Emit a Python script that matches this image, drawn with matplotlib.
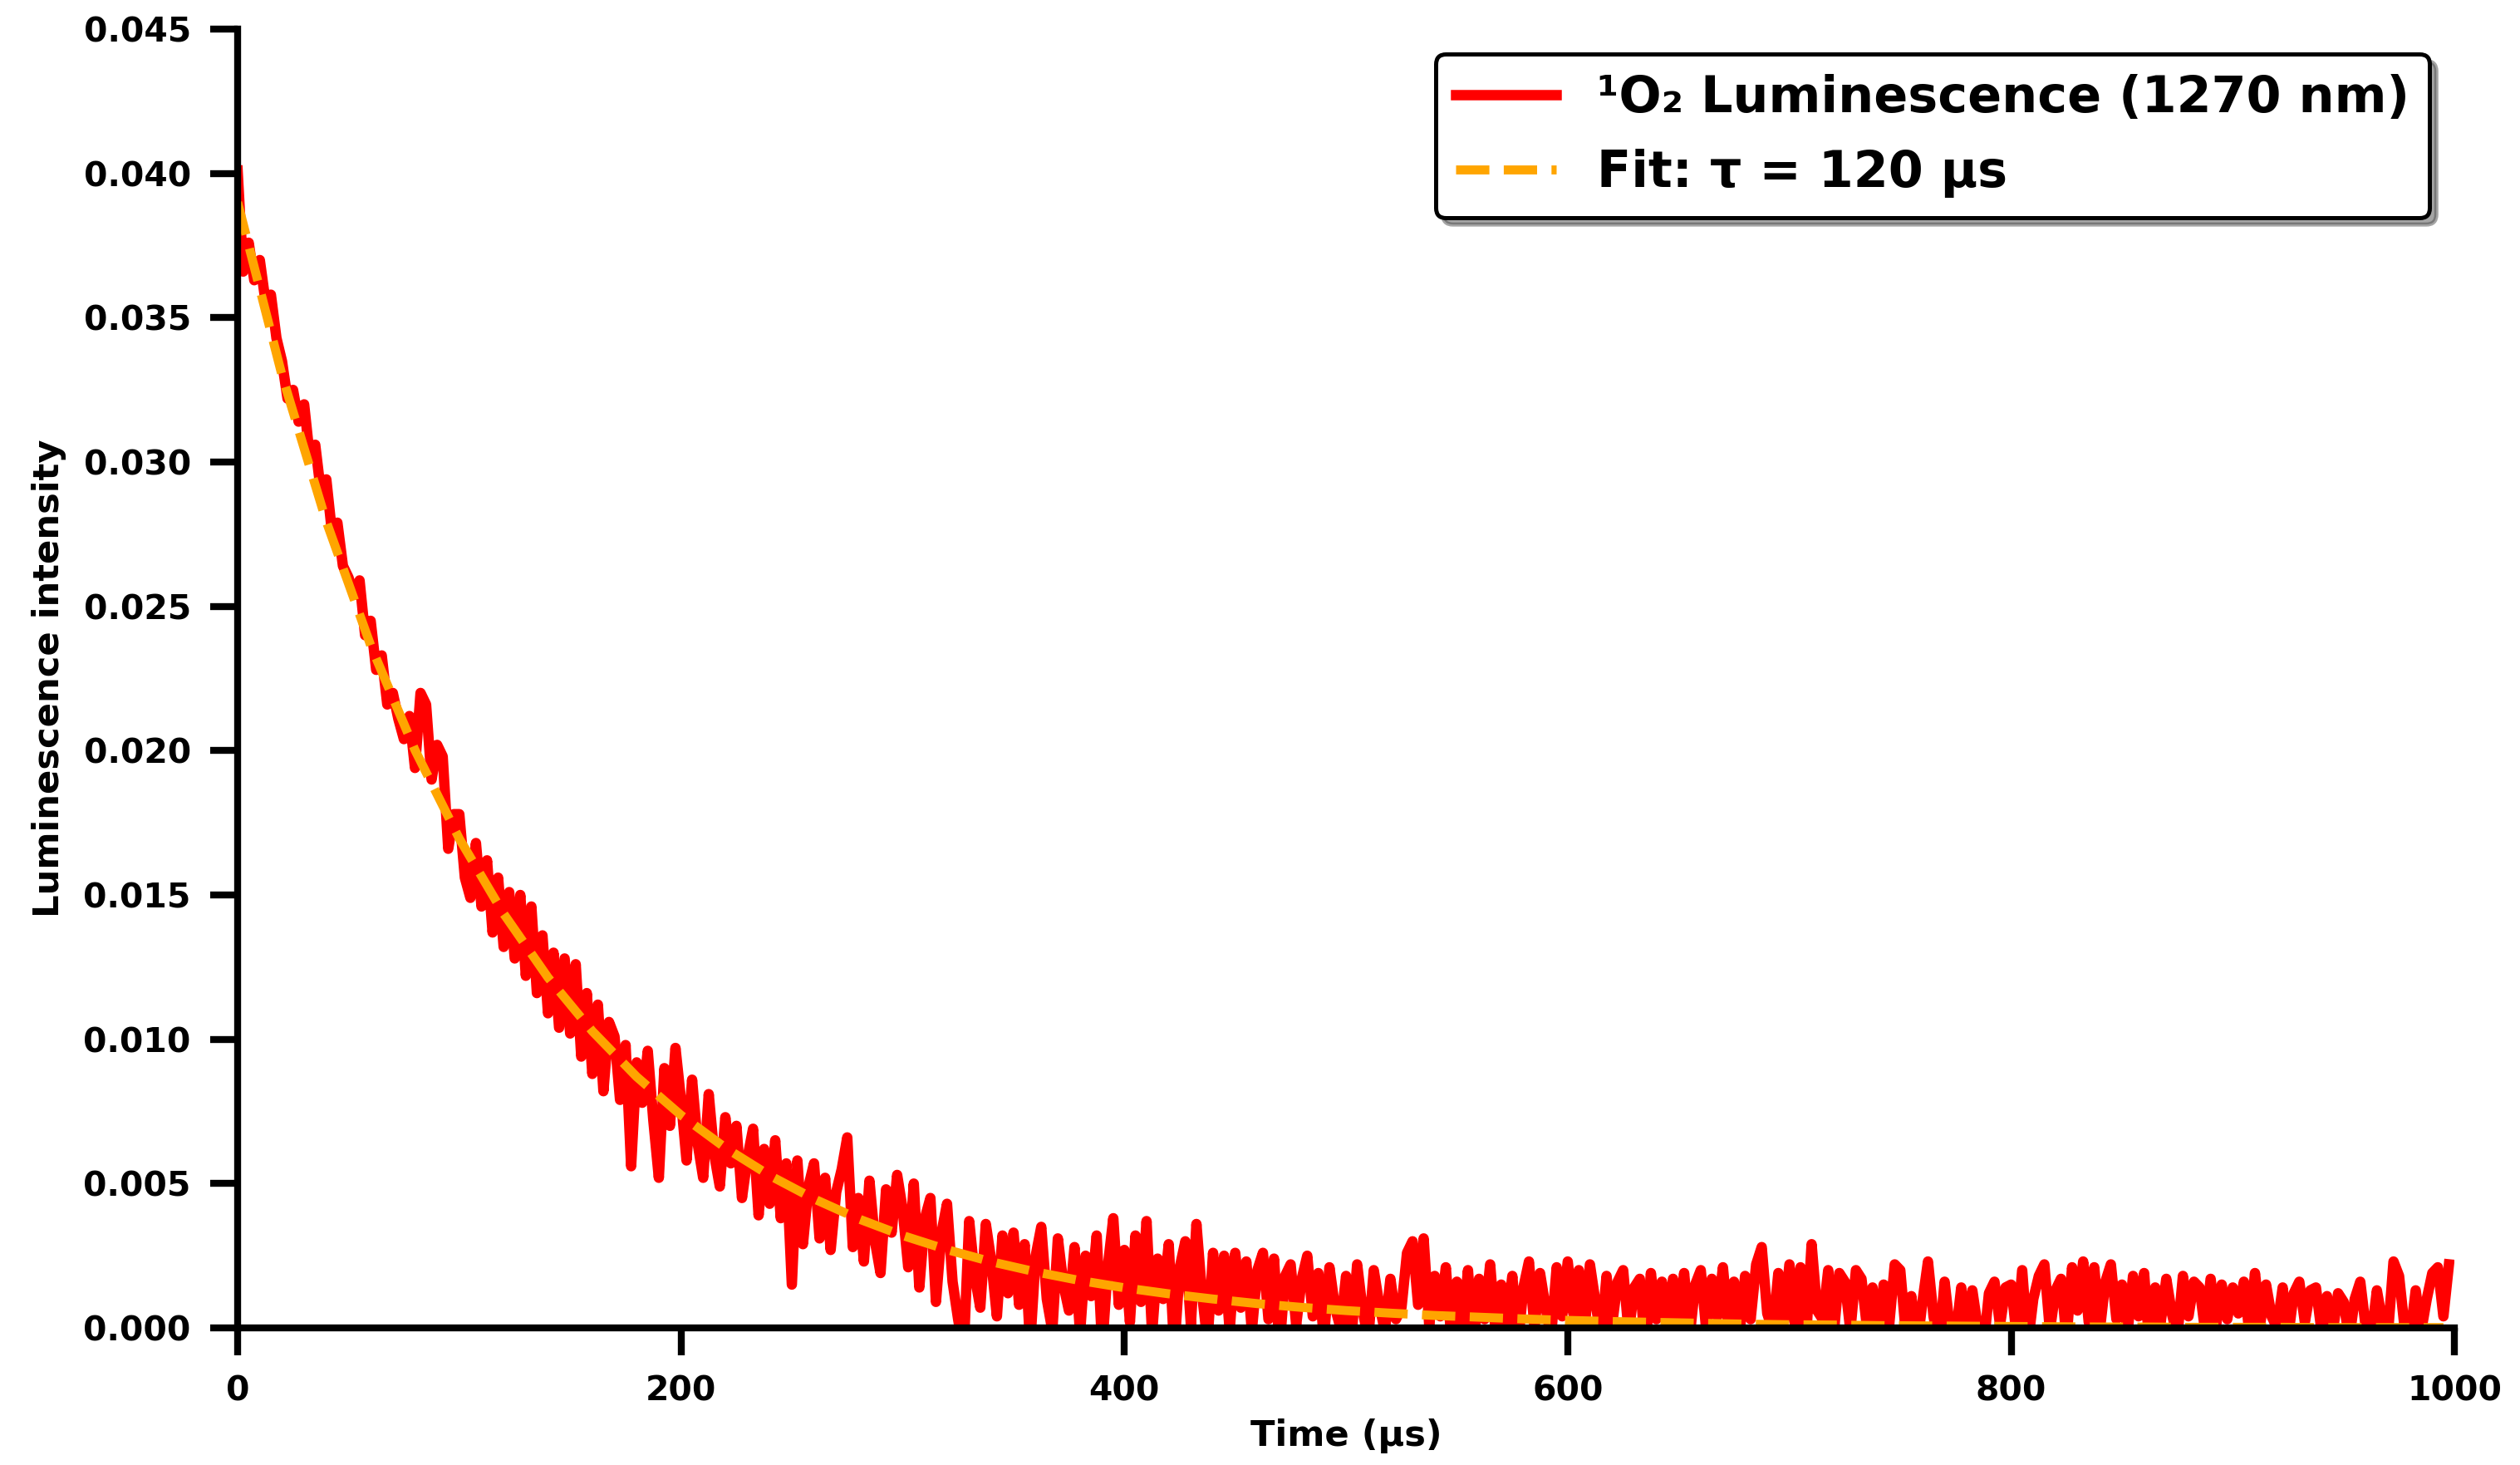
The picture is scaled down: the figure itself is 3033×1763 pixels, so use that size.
import numpy as np
import matplotlib.pyplot as plt

plt.rcParams['font.family'] = 'DejaVu Sans'
plt.rcParams['font.weight'] = 'bold'

# measured trace, one value every 2.5 us, in units of 1e-3
time_step = 2.5
signal_e3 = [
    40.1, 36.6, 37.6, 36.3, 37.0, 35.6, 35.8, 34.3, 33.5, 32.2,
    32.5, 31.4, 32.0, 30.2, 30.6, 29.0, 29.4, 27.6, 27.9, 26.4,
    26.0, 25.4, 25.9, 24.0, 24.5, 22.8, 23.3, 21.6, 22.0, 21.1,
    20.4, 21.2, 19.4, 22.0, 21.6, 19.0, 20.2, 19.8, 16.6, 17.8,
    17.8, 15.6, 14.9, 16.8, 14.6, 16.2, 13.7, 15.6, 13.2, 15.1,
    12.8, 15.0, 12.2, 14.6, 11.6, 13.6, 10.9, 13.0, 10.4, 12.8,
    10.2, 12.6, 9.4, 11.6, 8.8, 11.2, 8.2, 10.6, 10.1, 7.9,
    9.8, 5.6, 9.2, 7.8, 9.6, 7.2, 5.2, 9.0, 7.0, 9.7,
    7.9, 5.8, 8.6, 6.4, 5.2, 8.1, 6.0, 4.9, 7.3, 5.7,
    7.0, 4.5, 5.9, 6.9, 3.9, 6.2, 4.3, 6.5, 3.8, 5.7,
    1.5, 5.8, 2.9, 4.9, 5.7, 3.1, 5.2, 2.7, 4.7, 5.5,
    6.6, 2.8, 4.5, 2.3, 5.1, 3.0, 1.9, 4.8, 3.3, 5.3,
    4.1, 2.1, 5.0, 1.4, 3.8, 4.5, 0.9, 3.3, 4.3, 1.6,
    0.3, -0.8, 3.7, 1.8, 0.7, 3.6, 2.3, 0.4, 3.2, 1.2,
    3.3, 0.8, 2.9, -0.6, 2.5, 3.5, 1.0, -0.1, 3.1, 1.5,
    0.6, 2.8, -0.2, 2.5, 1.1, 3.2, -0.7, 2.1, 3.8, 0.8,
    2.7, 0.2, 3.2, 0.9, 3.7, -0.2, 2.4, 1.0, 2.9, -0.8,
    2.1, 3.0, 0.1, 3.6, 1.2, -0.5, 2.6, 0.6, 2.5, -0.1,
    2.6, 0.7, 2.3, -0.1, 2.0, 2.6, 0.3, 2.4, -0.7, 1.8,
    2.2, 0.1, 1.7, 2.5, 0.4, 1.9, -0.4, 2.1, 0.7, 0.0,
    1.8, -0.3, 2.2, 0.6, -0.4, 2.0, 0.8, -0.1, 1.7, 0.3,
    0.7, 2.6, 3.0, 0.8, 3.1, 0.1, 1.8, 0.4, 2.1, -0.4,
    1.6, 0.0, 2.0, -0.7, 1.7, 0.3, 2.2, -0.2, 1.5, 0.1,
    1.8, -0.6, 1.4, 2.3, 0.0, 1.9, 0.7, -0.3, 2.1, 0.4,
    2.3, 0.5, 2.0, -0.2, 2.2, 0.9, -0.4, 1.8, 0.1, 1.6,
    2.0, -0.2, 1.4, 1.7, -0.8, 1.9, 0.3, 1.6, 0.0, 1.7,
    0.1, 1.9, -0.3, 1.5, 2.0, -0.1, 1.7, 0.4, 2.1, 0.0,
    1.6, -0.2, 1.8, 0.3, 2.2, 2.8, 0.5, -0.1, 1.9, 0.2,
    2.2, 0.1, 2.1, -0.4, 2.9, 0.6, 0.3, 2.0, -0.2, 1.9,
    1.6, -0.1, 2.0, 1.7, 0.0, 1.4, -0.5, 1.5, 0.1, 2.2,
    2.0, -0.2, 1.1, -0.7, 0.9, 2.3, 0.4, -0.6, 1.6, -0.1,
    -0.3, 1.4, -0.9, 1.3, 0.0, -0.7, 1.2, 1.6, 0.1, 1.4,
    1.5, -0.3, 2.0, -0.6, 1.0, 1.8, 2.2, -0.1, 1.3, 1.7,
    -0.4, 2.1, 0.6, 2.3, 0.2, 2.1, -0.1, 1.6, 2.2, 0.3,
    1.5, -0.2, 1.8, 0.4, 1.9, -0.8, 1.4, 0.2, 1.7, 0.5,
    -0.3, 1.8, 0.4, 1.6, 1.4, -0.1, 1.7, 0.1, 1.5, 0.3,
    1.4, 0.5, 1.6, -0.2, 1.9, 0.2, 1.5, 0.4, 0.0, 1.4,
    -0.3, 1.2, 1.6, 0.2, 1.3, 1.4, -0.1, 1.1, -0.2, 1.2,
    0.9, -0.4, 1.0, 1.6, 0.0, -0.3, 1.3, 0.2, -0.2, 2.3,
    1.8, 0.0, -0.3, 1.3, -0.1, 1.0, 1.9, 2.1, 0.4, 2.2,
]

# fitted curve read every 20 us, units of 1e-3
fit_time = [0, 20, 40, 60, 80, 100, 120, 140, 160, 180, 200, 220, 240, 260,
            280, 300, 320, 340, 360, 380, 400, 420, 440, 460, 480, 500, 520,
            540, 560, 580, 600, 620, 640, 660, 680, 700, 720, 740, 760, 780,
            800, 820, 840, 860, 880, 900, 920, 940, 960, 980, 995]
fit_e3 = [39.00, 33.01, 27.94, 23.65, 20.02, 16.95, 14.35, 12.14, 10.28, 8.70,
          7.37, 6.24, 5.28, 4.47, 3.78, 3.20, 2.71, 2.29, 1.94, 1.64,
          1.39, 1.18, 1.00, 0.84, 0.71, 0.60, 0.51, 0.43, 0.37, 0.31,
          0.26, 0.22, 0.19, 0.16, 0.13, 0.11, 0.10, 0.08, 0.07, 0.06,
          0.05, 0.04, 0.03, 0.03, 0.02, 0.02, 0.02, 0.01, 0.01, 0.01, 0.01]

x_ticks = [0, 200, 400, 600, 800, 1000]
y_ticks = [0.000, 0.005, 0.010, 0.015, 0.020, 0.025, 0.030, 0.035, 0.040, 0.045]

t = np.arange(len(signal_e3)) * time_step
y = np.array(signal_e3) * 1e-3
yfit = np.array(fit_e3) * 1e-3

fig = plt.figure(figsize=(3033 / 300, 1763 / 300), dpi=300)
ax = fig.add_axes([0.0943, 0.0936, 0.8797, 0.8865])

ax.plot(t, y, color='red', lw=3.0, label='¹O₂ Luminescence (1270 nm)', zorder=2)
ax.plot(fit_time, yfit, color='orange', lw=2.6, ls='--', label='Fit: τ = 120 µs', zorder=3)

ax.set_xlim(0, 1000)
ax.set_ylim(0, 0.045)
ax.set_xticks(x_ticks)
ax.set_yticks(y_ticks)
ax.set_yticklabels(['{:.3f}'.format(v) for v in y_ticks])

for side in ['top', 'right']:
    ax.spines[side].set_visible(False)
for side in ['left', 'bottom']:
    ax.spines[side].set_linewidth(2.0)
    ax.spines[side].set_zorder(4)

ax.tick_params(axis='both', direction='out', length=8, width=2, labelsize=9.8, pad=5.5)
for lbl in ax.get_xticklabels() + ax.get_yticklabels():
    lbl.set_fontweight('bold')

ax.set_xlabel('Time (µs)', fontsize=10.4, fontweight='bold', labelpad=3)
ax.set_ylabel('Luminescence intensity', fontsize=10.4, fontweight='bold', labelpad=5)

leg = ax.legend(loc='upper right', prop={'weight': 'bold', 'size': 14.5},
                fancybox=True, shadow=True, framealpha=1, edgecolor='black',
                handlelength=2.0, borderaxespad=0.5)
leg.get_frame().set_linewidth(1.2)

plt.savefig('out.png', dpi=300)
plt.close(fig)
